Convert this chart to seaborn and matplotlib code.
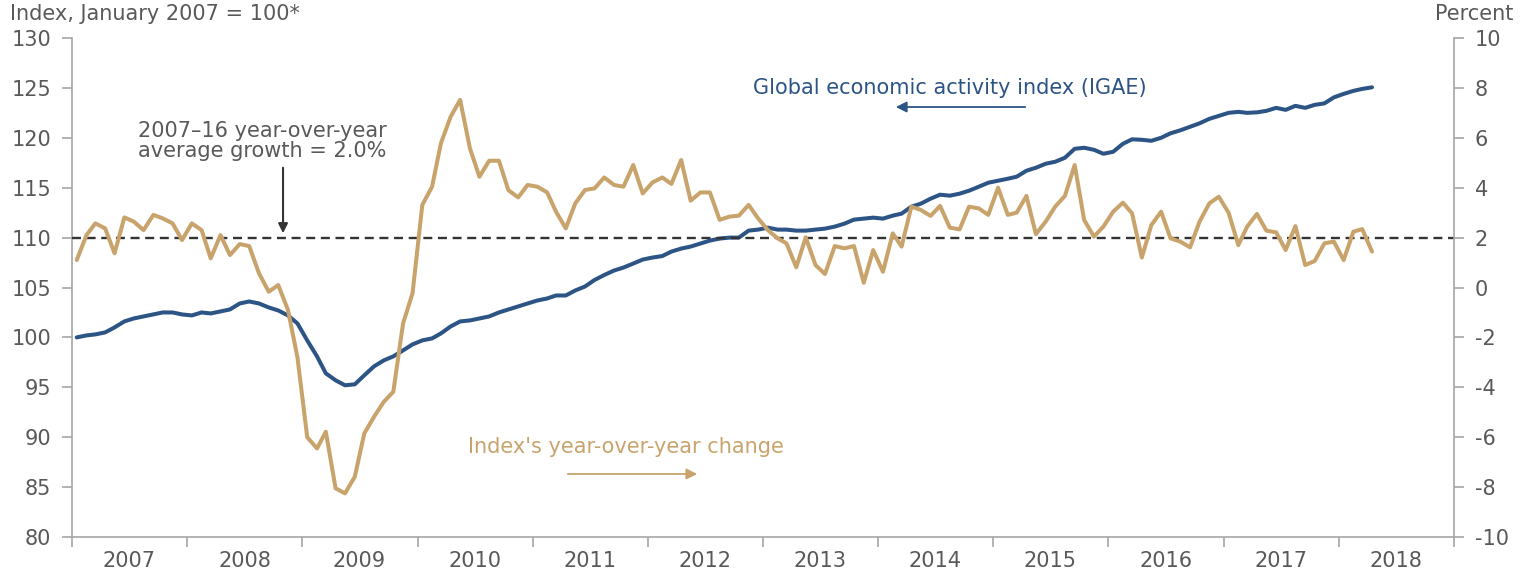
import matplotlib
matplotlib.use("Agg")
import matplotlib.pyplot as plt
import matplotlib.dates as mdates
import matplotlib.ticker as mticker
import pandas as pd
import seaborn as sns

# ---- data (monthly, Jan 2007 - Apr 2018) ----
start_month = "2007-01-01"

igae = [
    100.0, 100.2, 100.3, 100.5, 101.0, 101.6, 101.9, 102.1, 102.3, 102.5, 102.5, 102.3,
    102.2, 102.5, 102.4, 102.6, 102.8, 103.4, 103.6, 103.4, 103.0, 102.7, 102.2, 101.4,
    99.7, 98.1, 96.4, 95.7, 95.2, 95.3, 96.2, 97.1, 97.7, 98.1, 98.7, 99.3,
    99.7, 99.9, 100.4, 101.1, 101.6, 101.7, 101.9, 102.1, 102.5, 102.8, 103.1, 103.4,
    103.7, 103.9, 104.2, 104.2, 104.7, 105.1, 105.75, 106.25, 106.7, 107.0, 107.4, 107.8,
    108.0, 108.15, 108.6, 108.9, 109.1, 109.4, 109.7, 109.9, 110.0, 110.0, 110.7, 110.8,
    111.0, 110.8, 110.8, 110.7, 110.7, 110.8, 110.9, 111.1, 111.4, 111.8, 111.9, 112.0,
    111.9, 112.2, 112.4, 113.1, 113.4, 113.9, 114.3, 114.2, 114.4, 114.7, 115.1, 115.5,
    115.7, 115.9, 116.1, 116.7, 117.0, 117.4, 117.6, 118.0, 118.9, 119.0, 118.8, 118.4,
    118.6, 119.4, 119.85, 119.8, 119.7, 120.0, 120.45, 120.75, 121.1, 121.45, 121.9, 122.2,
    122.5, 122.6, 122.5, 122.55, 122.7, 123.0, 122.8, 123.2, 123.0, 123.3, 123.45, 124.05,
    124.4, 124.7, 124.9, 125.06,
]

yoy = [
    1.1, 2.1, 2.57, 2.37, 1.37, 2.81, 2.64, 2.3, 2.91, 2.77, 2.57, 1.9,
    2.57, 2.3, 1.17, 2.1, 1.3, 1.74, 1.66, 0.57, -0.17, 0.1, -0.9, -2.8,
    -6.0, -6.45, -5.78, -8.05, -8.25, -7.58, -5.85, -5.18, -4.58, -4.18, -1.44, -0.23,
    3.31, 4.04, 5.78, 6.85, 7.52, 5.58, 4.44, 5.08, 5.08, 3.9, 3.61, 4.11,
    4.04, 3.81, 3.04, 2.37, 3.37, 3.91, 3.97, 4.41, 4.11, 4.04, 4.91, 3.77,
    4.21, 4.41, 4.15, 5.11, 3.48, 3.81, 3.81, 2.71, 2.84, 2.88, 3.31, 2.77,
    2.3, 1.97, 1.77, 0.81, 2.01, 0.9, 0.54, 1.66, 1.57, 1.66, 0.19, 1.5,
    0.63, 2.17, 1.64, 3.24, 3.11, 2.87, 3.27, 2.4, 2.33, 3.24, 3.17, 2.91,
    4.0, 2.91, 3.0, 3.67, 2.14, 2.64, 3.24, 3.67, 4.91, 2.71, 2.04, 2.44,
    3.04, 3.4, 2.97, 1.2, 2.5, 3.04, 1.97, 1.84, 1.61, 2.64, 3.37, 3.64,
    3.0, 1.7, 2.44, 2.95, 2.28, 2.21, 1.5, 2.46, 0.9, 1.06, 1.77, 1.84,
    1.1, 2.24, 2.34, 1.44,
]

avg_growth = 2.0
left_ticks = list(range(80, 131, 5))
right_ticks = list(range(-10, 11, 2))

# ---- styling ----
BLUE = "#2C5485"
TAN = "#C8A46C"
TXT = "#595959"
SPINE = "#A6A6A6"
FS = 15

sns.set_style("ticks")
plt.rcParams["font.family"] = ["DejaVu Sans"]
plt.rcParams["axes.unicode_minus"] = False

dates = pd.date_range(start_month, periods=len(igae), freq="MS") + pd.Timedelta(days=15)
df = pd.DataFrame({"date": dates, "igae": igae, "yoy": yoy})

W, H = 1520, 572
fig = plt.figure(figsize=(W / 100, H / 100), dpi=100)
ax = fig.add_axes([72 / W, 35 / H, 1382 / W, 499 / H])
ax2 = ax.twinx()

ax2.axhline(avg_growth, color="#333333", lw=1.7, dashes=(3.8, 2.4), zorder=1)
sns.lineplot(data=df, x="date", y="igae", ax=ax, color=BLUE, linewidth=2.9)
sns.lineplot(data=df, x="date", y="yoy", ax=ax2, color=TAN, linewidth=2.9)

ax.set_ylim(80, 130)
ax2.set_ylim(-10, 10)
ax.set_xlim(pd.Timestamp("2007-01-01"), pd.Timestamp("2019-01-01"))
ax.set_yticks(left_ticks)
ax2.set_yticks(right_ticks)
for a in (ax, ax2):
    a.set_xlabel("")
    a.set_ylabel("")

ax.xaxis.set_major_locator(mdates.YearLocator())
ax.xaxis.set_major_formatter(mticker.NullFormatter())
ax.xaxis.set_minor_locator(mdates.MonthLocator(bymonth=7))
ax.xaxis.set_minor_formatter(mdates.DateFormatter("%Y"))

ax.tick_params(axis="x", which="major", length=7, width=1.2, color=SPINE, direction="out")
ax.tick_params(axis="x", which="minor", length=0, pad=10, labelsize=FS, labelcolor=TXT)
ax.tick_params(axis="y", length=7, width=1.2, color=SPINE, pad=8, labelsize=FS, labelcolor=TXT)
ax2.tick_params(axis="y", length=7, width=1.2, color=SPINE, pad=8, labelsize=FS, labelcolor=TXT)

for s in ("top", "right"):
    ax.spines[s].set_visible(False)
for s in ("top", "left", "bottom"):
    ax2.spines[s].set_visible(False)
for sp in (ax.spines["left"], ax.spines["bottom"], ax2.spines["right"]):
    sp.set_color(SPINE)
    sp.set_linewidth(1.2)

# ---- annotations ----
fig.text(10 / W, 1 - 14 / H, "Index, January 2007 = 100*", fontsize=FS, color=TXT, ha="left", va="center")
fig.text(1513 / W, 1 - 14 / H, "Percent", fontsize=FS, color=TXT, ha="right", va="center")

ax.text(0.4928, 0.8998, "Global economic activity index (IGAE)", transform=ax.transAxes,
        fontsize=FS, color=BLUE, ha="left", va="center")
ax.annotate("", xy=(0.5941, 0.8617), xytext=(0.6918, 0.8617), xycoords="axes fraction",
            arrowprops=dict(arrowstyle="-|>", color=BLUE, lw=1.3, mutation_scale=16))

ax.text(0.1375, 0.7936, "2007\u201316 year-over-year\naverage growth = 2.0%", transform=ax.transAxes,
        fontsize=FS, color=TXT, ha="center", va="center", multialignment="center", linespacing=1.05)
ax.annotate("", xy=(0.1527, 0.6032), xytext=(0.1527, 0.7455), xycoords="axes fraction",
            arrowprops=dict(arrowstyle="-|>", color="#333333", lw=1.5, mutation_scale=14))

ax.text(0.4009, 0.1804, "Index's year-over-year change", transform=ax.transAxes,
        fontsize=FS, color=TAN, ha="center", va="center")
ax.annotate("", xy=(0.4544, 0.1263), xytext=(0.3567, 0.1263), xycoords="axes fraction",
            arrowprops=dict(arrowstyle="-|>", color=TAN, lw=1.3, mutation_scale=16))

fig.savefig("out.png", dpi=100)
